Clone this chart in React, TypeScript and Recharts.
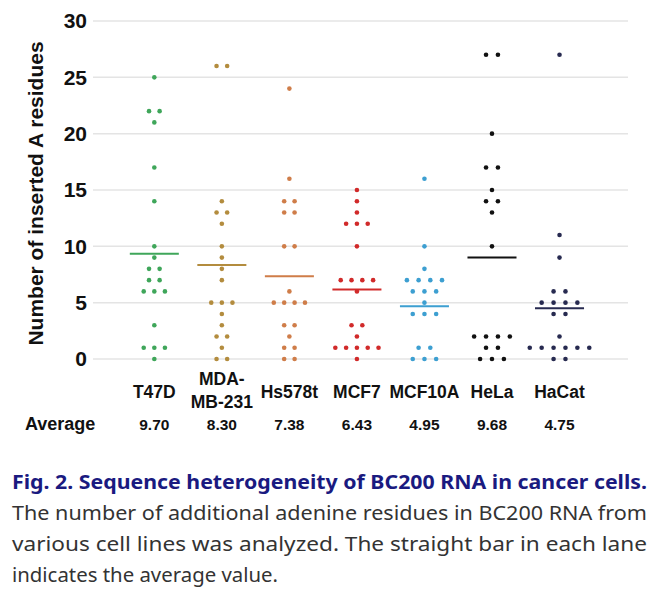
import React from 'react'
import {
  CartesianGrid,
  ComposedChart,
  ReferenceLine,
  Scatter,
  XAxis,
  YAxis,
} from 'recharts'

// lanes, left to right
const lanes = ['T47D', 'MDA-MB-231', 'Hs578t', 'MCF7', 'MCF10A', 'HeLa', 'HaCat']
const laneLabelLines = [['T47D'], ['MDA-', 'MB-231'], ['Hs578t'], ['MCF7'], ['MCF10A'], ['HeLa'], ['HaCat']]
const averageLabels = ['9.70', '8.30', '7.38', '6.43', '4.95', '9.68', '4.75']
// where the average bar is drawn in each lane
const averageBars = [9.35, 8.35, 7.35, 6.17, 4.69, 9.0, 4.51]

// inserted A residues, one entry per clone
const t47d = [25, 22, 22, 21, 17, 14, 10, 9, 8, 8, 7, 7, 6, 6, 6, 3, 1, 1, 1, 0]
const mdaMb231 = [26, 26, 14, 13, 13, 12, 10, 9, 8, 7, 5, 5, 5, 4, 3, 2, 2, 1, 0, 0]
const hs578t = [24, 16, 14, 14, 13, 13, 10, 10, 6, 5, 5, 5, 5, 3, 3, 2, 1, 1, 0, 0]
const mcf7 = [15, 14, 13, 12, 12, 12, 10, 7, 7, 7, 7, 6, 3, 3, 2, 1, 1, 1, 1, 1, 0]
const mcf10a = [16, 10, 8, 7, 7, 7, 7, 6, 6, 6, 5, 4, 4, 4, 1, 1, 0, 0, 0]
const hela = [27, 27, 20, 17, 17, 15, 14, 14, 13, 10, 2, 2, 2, 2, 1, 1, 0, 0, 0]
const hacat = [27, 11, 9, 6, 6, 5, 5, 5, 5, 4, 4, 2, 1, 1, 1, 1, 1, 1, 0, 0]

const laneValues = [t47d, mdaMb231, hs578t, mcf7, mcf10a, hela, hacat]
const yTicks = [0, 5, 10, 15, 20, 25, 30]

const laneColors = ['#3fa65a', '#b38c3e', '#cf7d49', '#d12a2a', '#3d9fd1', '#111111', '#272a50']
const dotGapPx = [10.6, 10.6, 10.4, 10.8, 11.7, 11.9, 11.9]
const PX_PER_LANE = 67.53
const BAR_HALF = 0.363
const AXIS_FONT = '"Liberation Sans", Arial, sans-serif'

// spread equal values side by side, centred on the lane
const swarm = (values: number[], lane: number) => {
  const counts: Record<number, number> = {}
  values.forEach((v) => (counts[v] = (counts[v] || 0) + 1))
  const seen: Record<number, number> = {}
  return values.map((v) => {
    const k = (seen[v] = (seen[v] ?? -1) + 1)
    const off = ((k - (counts[v] - 1) / 2) * dotGapPx[lane]) / PX_PER_LANE
    return { x: lane + off, y: v }
  })
}

const LaneTick = (props: any) => {
  const { x, y, payload } = props
  const i = payload.value as number
  const lines = laneLabelLines[i] || []
  return (
    <g fontFamily={AXIS_FONT} fontWeight='bold' fill='#111' textAnchor='middle'>
      {lines.length === 1 ? (
        <text x={x} y={y + 39} fontSize={17.5}>{lines[0]}</text>
      ) : (
        <>
          <text x={x} y={y + 26} fontSize={17.5}>{lines[0]}</text>
          <text x={x} y={y + 48.7} fontSize={17.5}>{lines[1]}</text>
        </>
      )}
      <text x={x} y={y + 71} fontSize={15.5}>{averageLabels[i]}</text>
    </g>
  )
}

const App = (): JSX.Element => {
  return (
    <div
      style={{
        position: 'absolute',
        left: 0,
        top: 0,
        width: 666,
        height: 590,
        overflow: 'hidden',
        background: '#fff',
      }}
    >
      <ComposedChart
        width={666}
        height={440}
        margin={{ top: 21, right: 38, bottom: 0, left: 0 }}
      >
        <CartesianGrid vertical={false} stroke='#e4e4e4' strokeWidth={1.5} />
        <XAxis
          type='number'
          dataKey='x'
          domain={[-0.908, 7.014]}
          ticks={lanes.map((_, i) => i)}
          interval={0}
          height={81}
          axisLine={false}
          tickLine={false}
          tickSize={0}
          tickMargin={0}
          tick={<LaneTick />}
        />
        <YAxis
          type='number'
          dataKey='y'
          domain={[0, 30]}
          ticks={yTicks}
          interval={0}
          width={93}
          axisLine={false}
          tickLine={false}
          tickSize={6}
          tickMargin={0}
          tick={{ fontSize: 21, fontWeight: 'bold', fill: '#111', fontFamily: AXIS_FONT }}
        />

        {/* DOTS */}
        {laneValues.map((vals, i) => (
          <Scatter
            key={lanes[i]}
            name={lanes[i]}
            data={swarm(vals, i)}
            isAnimationActive={false}
            shape={(p: any) => <circle cx={p.cx} cy={p.cy} r={2.3} fill={laneColors[i]} />}
          />
        ))}

        {/* AVERAGE BARS */}
        {averageBars.map((m, i) => (
          <ReferenceLine
            key={'avg' + i}
            segment={[
              { x: i - BAR_HALF, y: m },
              { x: i + BAR_HALF, y: m },
            ]}
            stroke={laneColors[i]}
            strokeWidth={2}
          />
        ))}
      </ComposedChart>

      <svg
        width={666}
        height={590}
        style={{ position: 'absolute', left: 0, top: 0, pointerEvents: 'none' }}
      >
        <text
          transform='translate(43,193.5) rotate(-90)'
          textAnchor='middle'
          fontFamily={AXIS_FONT}
          fontWeight='bold'
          fontSize={21}
          fill='#111'
        >
          Number of inserted A residues
        </text>
        <text x={25} y={430} fontFamily={AXIS_FONT} fontWeight='bold' fontSize={18} fill='#111'>
          Average
        </text>

        {/* CAPTION */}
        <g fontFamily='"Noto Sans", sans-serif' fontSize={20}>
          <text x={12} y={489} fontWeight='bold' fill='#1a1a80' textLength={635} lengthAdjust='spacingAndGlyphs'>
            Fig. 2. Sequence heterogeneity of BC200 RNA in cancer cells.
          </text>
          <text x={12} y={520} fill='#333' textLength={635} lengthAdjust='spacingAndGlyphs'>
            The number of additional adenine residues in BC200 RNA from
          </text>
          <text x={12} y={551} fill='#333' textLength={635} lengthAdjust='spacingAndGlyphs'>
            various cell lines was analyzed. The straight bar in each lane
          </text>
          <text x={12} y={582} fill='#333' textLength={266} lengthAdjust='spacingAndGlyphs'>
            indicates the average value.
          </text>
        </g>
      </svg>
    </div>
  )
}

export default App
